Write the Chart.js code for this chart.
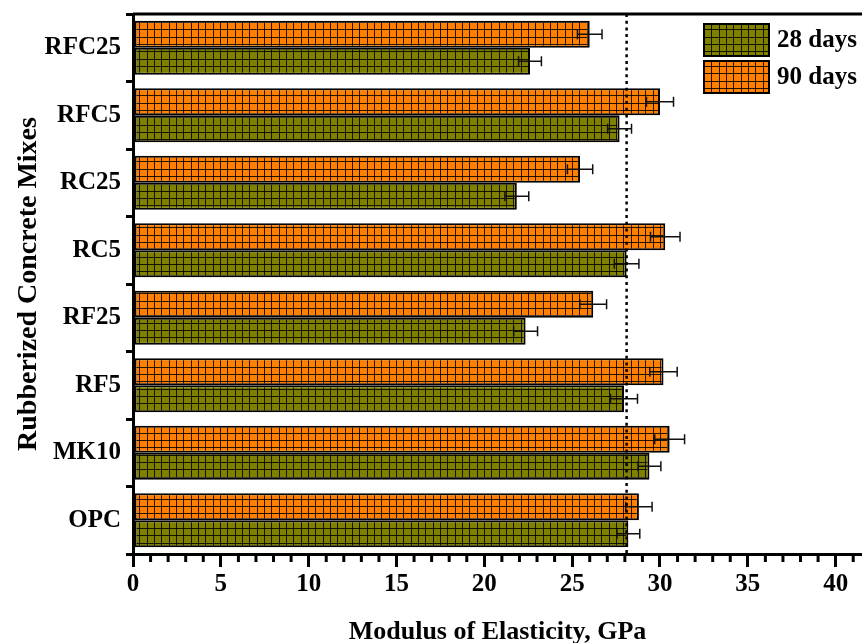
<!DOCTYPE html>
<html>
<head>
<meta charset="utf-8">
<script src="https://cdn.jsdelivr.net/npm/chart.js@4"></script>
<style>
  html, body { margin: 0; padding: 0; background: #fff; overflow: hidden; }
  #wrap { width: 862px; height: 643px; }
</style>
</head>
<body>
<div id="wrap"><canvas id="c" width="862" height="643"></canvas></div>
<script>
// ---- data ----
const categories = ['RFC25', 'RFC5', 'RC25', 'RC5', 'RF25', 'RF5', 'MK10', 'OPC'];
const days90 = [26.0, 30.0, 25.45, 30.3, 26.2, 30.2, 30.55, 28.8];
const err90  = [0.70, 0.77, 0.72, 0.84, 0.76, 0.78, 0.85, 0.75];
const days28 = [22.6, 27.7, 21.85, 28.1, 22.35, 27.95, 29.4, 28.2];
const err28  = [0.65, 0.68, 0.68, 0.70, 0.68, 0.77, 0.65, 0.65];
const referenceLine = [28.1];
const xMajorStep = 5;

const FONT = "'Liberation Serif', 'Times New Roman', serif";

function makePattern(color) {
  const c = document.createElement('canvas');
  c.width = 22; c.height = 22;
  const g = c.getContext('2d');
  g.fillStyle = color;
  g.fillRect(0, 0, 22, 22);
  g.fillStyle = 'rgba(0,0,0,0.85)';
  [0, 7, 15].forEach(p => { g.fillRect(p, 0, 1, 22); g.fillRect(0, p, 22, 1); });
  return g.createPattern(c, 'repeat');
}
const orangePat = makePattern('#ff8000');
const olivePat = makePattern('#808000');

const extras = {
  id: 'extras',
  afterDatasetsDraw(chart) {
    const ctx = chart.ctx;
    const xs = chart.scales.x;
    const area = chart.chartArea;
    ctx.save();
    chart.data.datasets.forEach((ds, di) => {
      const meta = chart.getDatasetMeta(di);
      meta.data.forEach((bar, i) => {
        const v = ds.data[i], e = ds.errors[i];
        const x1 = xs.getPixelForValue(v - e), x2 = xs.getPixelForValue(v + e);
        const y = bar.y;
        ctx.strokeStyle = '#111';
        ctx.lineWidth = 1.5;
        ctx.beginPath();
        ctx.moveTo(x1, y); ctx.lineTo(x2, y);
        ctx.moveTo(x1, y - 5); ctx.lineTo(x1, y + 5);
        ctx.moveTo(x2, y - 5); ctx.lineTo(x2, y + 5);
        ctx.stroke();
      });
    });
    referenceLine.forEach(v => {
      const x = xs.getPixelForValue(v);
      ctx.strokeStyle = '#000';
      ctx.lineWidth = 2.5;
      ctx.setLineDash([3, 3.7]);
      ctx.beginPath();
      ctx.moveTo(x, area.top); ctx.lineTo(x, area.bottom);
      ctx.stroke();
    });
    ctx.restore();
  },
  afterDraw(chart) {
    const ctx = chart.ctx;
    const xs = chart.scales.x;
    const area = chart.chartArea;
    ctx.save();
    ctx.strokeStyle = '#000';
    ctx.lineWidth = 3;
    ctx.beginPath();
    ctx.moveTo(area.left, area.top); ctx.lineTo(chart.width, area.top);
    ctx.stroke();
    ctx.lineWidth = 3;
    xs.ticks.forEach(t => {
      if (t.value % xMajorStep !== 0) {
        const x = xs.getPixelForValue(t.value);
        ctx.beginPath();
        ctx.moveTo(x, area.bottom); ctx.lineTo(x, area.bottom + 8);
        ctx.stroke();
      }
    });
    const items = chart.data.datasets.slice().reverse();
    const bx = 704, bw = 65, bh = 32;
    const ys = [24, 61];
    items.forEach((ds, k) => {
      const y = ys[k];
      ctx.fillStyle = ds.backgroundColor;
      ctx.fillRect(bx, y, bw, bh);
      ctx.strokeStyle = '#000';
      ctx.lineWidth = 2;
      ctx.strokeRect(bx, y, bw, bh);
      ctx.fillStyle = '#000';
      ctx.font = 'bold 25px ' + FONT;
      ctx.textBaseline = 'middle';
      ctx.textAlign = 'left';
      ctx.fillText(ds.label, 777, y + bh / 2 + 1);
    });
    ctx.restore();
  }
};

new Chart(document.getElementById('c'), {
  type: 'bar',
  data: {
    labels: categories,
    datasets: [
      { label: '90 days', data: days90, errors: err90, backgroundColor: orangePat,
        borderColor: '#000', borderWidth: 2, borderSkipped: false },
      { label: '28 days', data: days28, errors: err28, backgroundColor: olivePat,
        borderColor: '#000', borderWidth: 2, borderSkipped: false }
    ]
  },
  options: {
    indexAxis: 'y',
    responsive: false,
    animation: false,
    events: [],
    layout: { padding: { top: 14, right: 0, bottom: 0, left: 0 } },
    categoryPercentage: 0.8,
    barPercentage: 1.0,
    plugins: { legend: { display: false }, tooltip: { enabled: false } },
    scales: {
      x: {
        type: 'linear',
        min: 0,
        max: 41.5,
        afterFit(s) { s.height = 89; s.paddingLeft = 0; s.paddingRight = 0; },
        ticks: {
          stepSize: 1,
          includeBounds: false,
          autoSkip: false,
          maxRotation: 0,
          padding: 3,
          color: '#000',
          font: { family: FONT, size: 25, weight: 'bold' },
          callback: v => (v % xMajorStep === 0 ? String(v) : '')
        },
        grid: {
          display: true,
          drawOnChartArea: false,
          drawTicks: true,
          tickLength: 13,
          lineWidth: 3,
          tickColor: c => (c.tick && c.tick.value % xMajorStep === 0 ? '#000' : 'rgba(0,0,0,0)')
        },
        border: { display: true, color: '#000', width: 3 },
        title: {
          display: true,
          text: 'Modulus of Elasticity, GPa',
          color: '#000',
          font: { family: FONT, size: 26, weight: 'bold' },
          padding: { top: 0, bottom: -5 }
        }
      },
      y: {
        type: 'category',
        afterFit(s) { s.width = 133; s.paddingTop = 0; s.paddingBottom = 0; },
        ticks: {
          padding: 5,
          color: '#000',
          font: { family: FONT, size: 25, weight: 'bold' }
        },
        grid: {
          display: true,
          offset: true,
          drawOnChartArea: false,
          drawTicks: true,
          tickLength: 7,
          lineWidth: 3,
          tickColor: '#000'
        },
        border: { display: true, color: '#000', width: 3 },
        title: {
          display: true,
          text: 'Rubberized Concrete Mixes',
          color: '#000',
          font: { family: FONT, size: 28, weight: 'bold' },
          padding: { top: 12, bottom: 0 }
        }
      }
    }
  },
  plugins: [extras]
});
</script>
</body>
</html>
